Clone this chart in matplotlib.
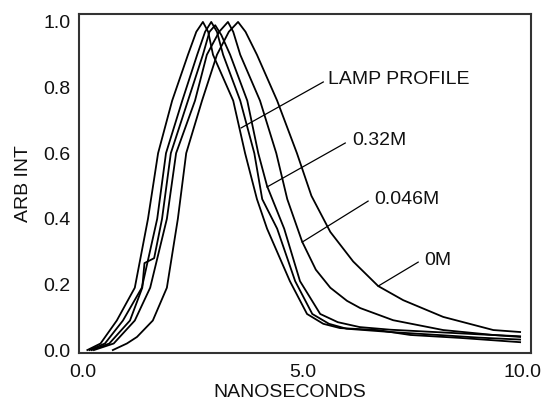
import numpy as np
import matplotlib.pyplot as plt

plt.rcParams['font.family'] = ['Liberation Sans', 'DejaVu Sans']

# lamp profile
lamp_x = [0.10, 0.40, 0.77, 1.18, 1.48, 1.71, 2.03, 2.39, 2.58, 2.73, 2.85, 2.96, 3.42, 3.69, 3.96, 4.19,
          4.71, 5.10, 5.47, 5.85, 6.70, 7.45, 8.59, 9.95]
lamp_y = [0.00, 0.02, 0.09, 0.19, 0.40, 0.60, 0.76, 0.90, 0.97, 1.00, 0.97, 0.90, 0.76, 0.60, 0.46, 0.37,
          0.21, 0.11, 0.08, 0.067, 0.061, 0.046, 0.037, 0.024]

# second trace close to the lamp
trace_x = [0.15, 0.50, 0.91, 1.34, 1.69, 1.89, 2.26, 2.60, 2.78, 2.92, 3.05, 3.19, 3.58, 3.90, 4.08, 4.42,
           4.83, 5.22, 5.60, 6.00, 7.00, 8.20, 9.00, 9.95]
trace_y = [0.00, 0.02, 0.09, 0.19, 0.40, 0.60, 0.76, 0.90, 0.97, 1.00, 0.97, 0.90, 0.76, 0.60, 0.46, 0.37,
           0.21, 0.11, 0.08, 0.065, 0.055, 0.045, 0.038, 0.032]

# 0.32M
m032_x = [0.20, 0.60, 1.07, 1.35, 1.40, 1.62, 1.80, 2.00, 2.39, 2.73, 2.88, 3.01, 3.15, 3.35, 3.74, 3.99,
          4.19, 4.58, 4.94, 5.40, 5.80, 6.30, 7.00, 8.00, 9.00, 9.95]
m032_y = [0.00, 0.02, 0.09, 0.19, 0.265, 0.28, 0.40, 0.60, 0.76, 0.90, 0.97, 0.99, 0.96, 0.90, 0.76, 0.60,
          0.50, 0.37, 0.21, 0.11, 0.085, 0.07, 0.062, 0.055, 0.048, 0.042]

# 0.046M
m0046_x = [0.25, 0.70, 1.18, 1.53, 1.91, 2.12, 2.55, 2.82, 3.10, 3.30, 3.42, 3.58, 4.03, 4.40, 4.65, 4.99,
           5.30, 5.63, 6.01, 6.31, 7.06, 8.20, 9.34, 9.95]
m0046_y = [0.00, 0.02, 0.09, 0.19, 0.40, 0.60, 0.76, 0.90, 0.97, 1.00, 0.97, 0.90, 0.76, 0.60, 0.46, 0.33,
           0.245, 0.19, 0.15, 0.128, 0.091, 0.061, 0.046, 0.040]

# 0M
m0_x = [0.68, 1.00, 1.23, 1.59, 1.91, 2.16, 2.35, 2.71, 3.05, 3.32, 3.53, 3.70, 3.96, 4.42, 4.87, 5.20,
        5.63, 6.15, 6.72, 7.29, 8.20, 9.34, 9.95]
m0_y = [0.00, 0.02, 0.04, 0.09, 0.19, 0.40, 0.60, 0.76, 0.90, 0.97, 1.00, 0.97, 0.90, 0.76, 0.60, 0.47,
        0.36, 0.27, 0.195, 0.152, 0.101, 0.061, 0.055]

labels = ['LAMP PROFILE', '0.32M', '0.046M', '0M']
label_pos = [(5.58, 0.826), (6.13, 0.64), (6.63, 0.46), (7.77, 0.274)]
leader_start = [(3.60, 0.677), (4.19, 0.497), (4.99, 0.329), (6.72, 0.195)]
leader_end = [(5.47, 0.817), (5.97, 0.631), (6.49, 0.454), (7.63, 0.268)]

fig = plt.figure(figsize=(5.46, 4.04), dpi=100)
ax = fig.add_axes([0.1447, 0.1262, 0.828, 0.839])

for xs, ys in [(lamp_x, lamp_y), (trace_x, trace_y), (m032_x, m032_y), (m0046_x, m0046_y), (m0_x, m0_y)]:
    ax.plot(xs, ys, color='black', lw=1.3)

for txt, pos, s, e in zip(labels, label_pos, leader_start, leader_end):
    ax.plot([s[0], e[0]], [s[1], e[1]], color='black', lw=0.9)
    ax.text(pos[0], pos[1], txt, fontsize=14, va='center', ha='left', color='#111111')

ax.set_xlim(-0.09, 10.2)
ax.set_ylim(-0.009, 1.024)
ax.set_xticks([0, 5, 10])
ax.set_xticklabels(['0.0', '5.0', '10.0'])
ax.set_yticks([0, 0.2, 0.4, 0.6, 0.8, 1.0])
ax.set_yticklabels(['0.0', '0.2', '0.4', '0.6', '0.8', '1.0'])
ax.tick_params(length=0, labelsize=14, colors='#111111')
ax.tick_params(axis='x', pad=8)
ax.tick_params(axis='y', pad=6)
for sp in ax.spines.values():
    sp.set_linewidth(1.5)
    sp.set_color('#333333')

ax.set_xlabel('NANOSECONDS', fontsize=14, color='#111111')
ax.xaxis.set_label_coords((290 - 79) / 452, -0.09)
ax.set_ylabel('ARB INT', fontsize=14, color='#111111')
ax.yaxis.set_label_coords(-0.103, 0.5)

fig.savefig('out.png', dpi=100)
